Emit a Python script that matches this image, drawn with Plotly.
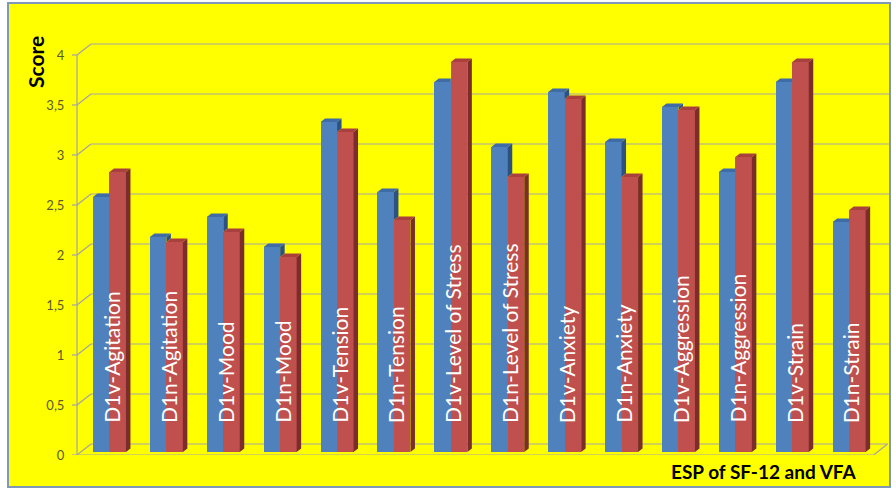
import plotly.graph_objects as go

# Scores per item: D1v / D1n pairs for each well-being dimension
categories = [
    "D1v-Agitation", "D1n-Agitation", "D1v-Mood", "D1n-Mood",
    "D1v-Tension", "D1n-Tension", "D1v-Level of Stress", "D1n-Level of Stress",
    "D1v-Anxiety", "D1n-Anxiety", "D1v-Aggression", "D1n-Aggression",
    "D1v-Strain", "D1n-Strain",
]
series_a = [2.55, 2.15, 2.35, 2.05, 3.30, 2.60, 3.70, 3.05, 3.60, 3.10, 3.45, 2.80, 3.70, 2.30]
series_b = [2.80, 2.10, 2.20, 1.95, 3.20, 2.32, 3.90, 2.75, 3.53, 2.75, 3.42, 2.95, 3.90, 2.42]
tick_values = [0, 0.5, 1, 1.5, 2, 2.5, 3, 3.5, 4]
tick_labels = ["0", "0,5", "1", "1,5", "2", "2,5", "3", "3,5", "4"]

# Pseudo-3D geometry (in axis units)
W_PX, H_PX = 896, 490
ML, MR, MT, MB = 72, 7, 40, 35
PX_X = 56.9            # pixels per category
PX_Y = 100.0           # pixels per score unit
plot_w = W_PX - ML - MR
plot_h = H_PX - MT - MB
x_min = -0.5 - 5 / PX_X
x_max = x_min + plot_w / PX_X
y_max = plot_h / PX_Y

WALL_DX, WALL_DY = 14 / PX_X, 0.11     # depth of the back wall
BAR_DX, BAR_DY = 4.5 / PX_X, 0.035     # depth of a single column
SHIFT_X, BASE = 4 / PX_X, 0.03         # columns sit slightly behind the front plane
BAR_W = 0.29

BLUE, BLUE_TOP, BLUE_SIDE = "#4f81bd", "#3f6ca6", "#2d5182"
RED, RED_TOP, RED_SIDE = "#c0504d", "#a8403d", "#7b2d2b"
GRID = "#a3a3a3"

n = len(categories)
xa = [i + SHIFT_X - BAR_W / 2 for i in range(n)]
xb = [i + SHIFT_X + BAR_W / 2 for i in range(n)]

fig = go.Figure()
fig.add_trace(go.Bar(x=xa, y=series_a, base=BASE, width=BAR_W, name="D1",
                     marker=dict(color=BLUE, line=dict(width=0)),
                     hovertemplate="%{customdata}: %{y}<extra></extra>",
                     customdata=categories))
fig.add_trace(go.Bar(x=xb, y=series_b, base=BASE, width=BAR_W, name="D2",
                     marker=dict(color=RED, line=dict(width=0)),
                     hovertemplate="%{customdata}: %{y}<extra></extra>",
                     customdata=categories))


def poly(pts, xs, ys):
    for px, py in pts + [pts[0]]:
        xs.append(px)
        ys.append(py)
    xs.append(None)
    ys.append(None)


# top and side faces of the columns
bt_x, bt_y, bs_x, bs_y = [], [], [], []
rt_x, rt_y, rs_x, rs_y = [], [], [], []
for i in range(n):
    ta, tb = BASE + series_a[i], BASE + series_b[i]
    la, x0 = xa[i] - BAR_W / 2, xa[i] + BAR_W / 2
    rb = xb[i] + BAR_W / 2
    # second column: side and top
    poly([(rb, BASE), (rb + BAR_DX, BASE + BAR_DY), (rb + BAR_DX, tb + BAR_DY), (rb, tb)], rs_x, rs_y)
    poly([(x0, tb), (rb, tb), (rb + BAR_DX, tb + BAR_DY), (x0 + BAR_DX, tb + BAR_DY)], rt_x, rt_y)
    # first column: the part of its side above the neighbour, and its top
    if ta > tb:
        poly([(x0, tb), (x0 + BAR_DX, tb + BAR_DY), (x0 + BAR_DX, ta + BAR_DY), (x0, ta)], bs_x, bs_y)
        poly([(la, ta), (x0, ta), (x0 + BAR_DX, ta + BAR_DY), (la + BAR_DX, ta + BAR_DY)], bt_x, bt_y)
    else:
        poly([(la, ta), (x0, ta), (x0, ta + BAR_DY), (la + BAR_DX, ta + BAR_DY)], bt_x, bt_y)

for xs, ys, col in [(bs_x, bs_y, BLUE_SIDE), (bt_x, bt_y, BLUE_TOP),
                    (rs_x, rs_y, RED_SIDE), (rt_x, rt_y, RED_TOP)]:
    fig.add_trace(go.Scatter(x=xs, y=ys, mode="lines", fill="toself", fillcolor=col,
                             line=dict(width=0, color=col), hoverinfo="skip", showlegend=False))

# background, walls and gridlines
shapes = [dict(type="rect", xref="paper", yref="paper", layer="below",
               x0=(8 - ML) / plot_w, x1=(890 - ML) / plot_w,
               y0=-(487 - (H_PX - MB)) / plot_h, y1=((H_PX - MB) - 3) / plot_h,
               fillcolor="#ffff00", line=dict(color="#7f98b8", width=2))]
line_style = dict(color=GRID, width=1.2)
for v in tick_values:
    shapes.append(dict(type="line", xref="x", yref="y", layer="below",
                       x0=x_min, y0=v, x1=-0.5, y1=v, line=line_style))
    shapes.append(dict(type="line", xref="x", yref="y", layer="below",
                       x0=-0.5, y0=v, x1=-0.5 + WALL_DX, y1=v + WALL_DY, line=line_style))
    x_end = n - 0.5 + WALL_DX if v == 0 else x_max
    shapes.append(dict(type="line", xref="x", yref="y", layer="below",
                       x0=-0.5 + WALL_DX, y0=v + WALL_DY, x1=x_end, y1=v + WALL_DY, line=line_style))
# vertical axis and floor outline
shapes.append(dict(type="line", xref="x", yref="y", layer="below",
                   x0=-0.5, y0=0, x1=-0.5, y1=tick_values[-1], line=line_style))
shapes.append(dict(type="line", xref="x", yref="y", layer="below",
                   x0=-0.5, y0=0, x1=n - 0.5, y1=0, line=line_style))
shapes.append(dict(type="line", xref="x", yref="y", layer="below",
                   x0=n - 0.5, y0=0, x1=n - 0.5 + WALL_DX, y1=WALL_DY, line=line_style))

annotations = []
for i, name in enumerate(categories):
    annotations.append(dict(x=i + SHIFT_X + 0.03, y=0.30, xref="x", yref="y",
                            text=name, textangle=-90, showarrow=False,
                            xanchor="center", yanchor="bottom",
                            font=dict(family="Lato", size=21, color="#ffffff")))
annotations.append(dict(x=(36 - ML) / plot_w, y=((H_PX - MB) - 62) / plot_h,
                        xref="paper", yref="paper", text="<b>Score</b>", textangle=-90,
                        showarrow=False, xanchor="center", yanchor="middle",
                        font=dict(family="Lato", size=21, color="#000000")))
annotations.append(dict(x=(763 - ML) / plot_w, y=-((471 - (H_PX - MB)) / plot_h),
                        xref="paper", yref="paper", text="<b>ESP of SF-12 and VFA</b>",
                        showarrow=False, xanchor="center", yanchor="middle",
                        font=dict(family="Lato", size=19, color="#000000")))

fig.update_layout(
    width=W_PX, height=H_PX,
    margin=dict(l=ML, r=MR, t=MT, b=MB, autoexpand=False),
    paper_bgcolor="#ffffff", plot_bgcolor="rgba(0,0,0,0)",
    barmode="overlay", bargap=0, showlegend=False,
    shapes=shapes, annotations=annotations,
    xaxis=dict(range=[x_min, x_max], visible=False, fixedrange=True),
    yaxis=dict(range=[0, y_max], tickvals=tick_values, ticktext=tick_labels,
               showgrid=False, zeroline=False, showline=False,
               ticks="outside", ticklen=4, tickcolor="rgba(0,0,0,0)",
               tickfont=dict(family="Lato", size=13, color="#5a5a30"), fixedrange=True),
)

fig.write_html("out.html")
